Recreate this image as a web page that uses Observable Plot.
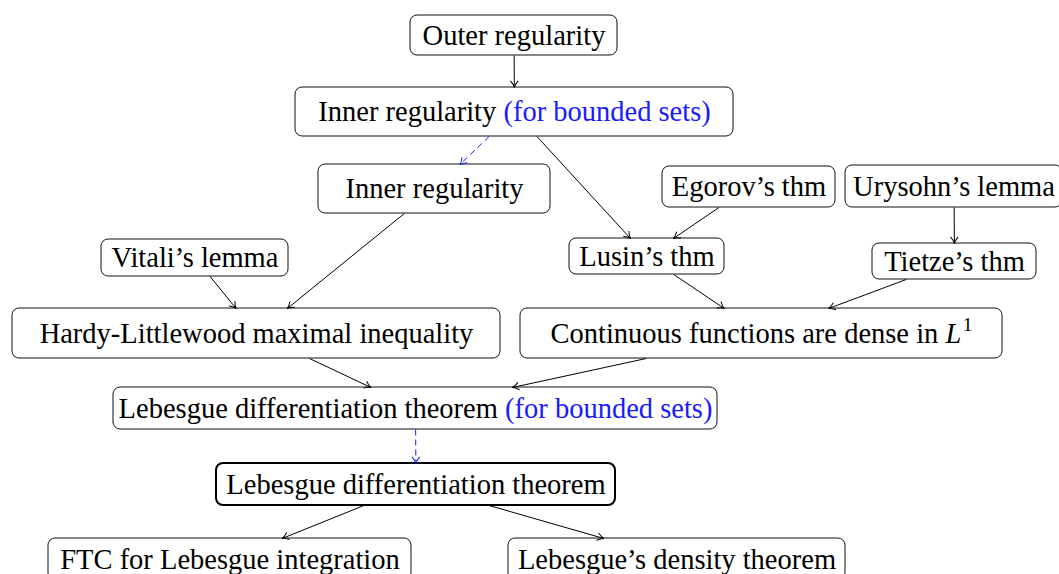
<!DOCTYPE html>
<html>
<head>
<meta charset="utf-8">
<script src="https://cdn.jsdelivr.net/npm/d3@7"></script>
<script src="https://cdn.jsdelivr.net/npm/@observablehq/plot@0.6"></script>
<style>
  html, body { margin: 0; padding: 0; background: #fff; overflow: hidden; }
</style>
</head>
<body>
<div id="chart"></div>
<script>
// ---- Diagram data (node layout) ----
const nodeLabels = [
  "Outer regularity",
  "Inner regularity",
  "Inner regularity",
  "Egorov’s thm",
  "Urysohn’s lemma",
  "Vitali’s lemma",
  "Lusin’s thm",
  "Tietze’s thm",
  "Hardy-Littlewood maximal inequality",
  "Continuous functions are dense in $L^1$",
  "Lebesgue differentiation theorem",
  "Lebesgue differentiation theorem",
  "FTC for Lebesgue integration",
  "Lebesgue’s density theorem"
];
const nodeNotes = ["", "(for bounded sets)", "", "", "", "", "", "", "", "", "(for bounded sets)", "", "", ""];
const nodeX = [513.5, 514, 434, 748.5, 953.5, 194.5, 646.5, 954, 256, 761, 415, 415.5, 229.5, 676.5];
const nodeY = [35, 111.5, 188.5, 186.5, 186, 257.5, 256, 261, 333, 333, 408, 484, 559, 559];
const nodeW = [207, 438, 232, 173, 217, 187, 155, 164, 488, 482, 604, 399, 363, 337];
const nodeH = [40, 49, 49, 41, 42, 37, 36, 36, 50, 50, 42, 42, 42, 42];
const nodeThick = [0, 0, 0, 0, 0, 0, 0, 0, 0, 0, 0, 1, 0, 0];

const edgeFrom   = [0, 1, 1, 3, 4, 5, 2, 6, 7, 8, 9, 10, 11, 11];
const edgeTo     = [1, 2, 6, 6, 7, 8, 8, 9, 9, 10, 10, 11, 12, 13];
const edgeDashed = [0, 1, 0, 0, 0, 0, 0, 0, 0, 0, 0, 1, 0, 0];

// ---- Build tables ----
const FONT = "Liberation Serif";
const FS = 28.5, SUPFS = 19.5;
const BLUE = "#1a1aff";
const ctx = document.createElement("canvas").getContext("2d");
function measure(t, italic, size) {
  ctx.font = `${italic ? "italic " : ""}${size}px "${FONT}"`;
  return ctx.measureText(t).width;
}

const nodes = nodeLabels.map((label, i) => ({
  x1: nodeX[i] - nodeW[i] / 2, x2: nodeX[i] + nodeW[i] / 2,
  y1: nodeY[i] - nodeH[i] / 2, y2: nodeY[i] + nodeH[i] / 2,
  thick: nodeThick[i] === 1
}));

const segs = [];
nodeLabels.forEach((label, i) => {
  const parts = [];
  const m = label.match(/^(.*?)\s*\$(\w)\^(\w)\$$/);
  if (m) {
    parts.push({t: m[1], kind: "plain"});
    parts.push({t: " ", kind: "space"});
    parts.push({t: m[2], kind: "ital"});
    parts.push({t: m[3], kind: "sup"});
  } else {
    parts.push({t: label, kind: "plain"});
  }
  if (nodeNotes[i]) {
    parts.push({t: " ", kind: "space"});
    parts.push({t: nodeNotes[i], kind: "note"});
  }
  parts.forEach(p => {
    p.w = measure(p.t, p.kind === "ital", p.kind === "sup" ? SUPFS : FS) + (p.kind === "ital" ? 1.5 : 0);
  });
  const total = d3.sum(parts, p => p.w);
  let cx = nodeX[i] - total / 2;
  parts.forEach(p => {
    if (p.kind !== "space") segs.push({x: cx, y: nodeY[i], t: p.t, kind: p.kind});
    cx += p.w;
  });
});

const edges = edgeFrom.map((s, i) => {
  const t = edgeTo[i];
  const dx = nodeX[t] - nodeX[s], dy = nodeY[t] - nodeY[s];
  const ts = Math.min(nodeW[s] / 2 / Math.abs(dx), nodeH[s] / 2 / Math.abs(dy));
  const tt = Math.min(nodeW[t] / 2 / Math.abs(dx), nodeH[t] / 2 / Math.abs(dy));
  return {
    x1: nodeX[s] + dx * ts, y1: nodeY[s] + dy * ts,
    x2: nodeX[s] + dx * (1 - tt), y2: nodeY[s] + dy * (1 - tt),
    angle: Math.atan2(dx, -dy) * 180 / Math.PI,
    dashed: edgeDashed[i] === 1
  };
});

// TikZ-like "to" arrow tip, pointing up with its tip at the origin
const arrowTip = {
  draw(context) {
    context.moveTo(-3.8, 6.6);
    context.quadraticCurveTo(-0.5, 2.6, 0, 0);
    context.quadraticCurveTo(0.5, 2.6, 3.8, 6.6);
  }
};

const textBase = {x: "x", y: "y", text: "t", textAnchor: "start", fontFamily: FONT, fontSize: FS};

const chart = Plot.plot({
  width: 1059,
  height: 574,
  margin: 0,
  x: {domain: [0, 1059], range: [0, 1059], axis: null},
  y: {domain: [0, 574], range: [0, 574], axis: null},
  marks: [
    Plot.rect(nodes.filter(d => !d.thick), {x1: "x1", x2: "x2", y1: "y1", y2: "y2", rx: 7, fill: "white", stroke: "#111", strokeWidth: 1}),
    Plot.rect(nodes.filter(d => d.thick), {x1: "x1", x2: "x2", y1: "y1", y2: "y2", rx: 7, fill: "white", stroke: "#000", strokeWidth: 2}),
    Plot.link(edges.filter(d => !d.dashed), {x1: "x1", y1: "y1", x2: "x2", y2: "y2", stroke: "#000", strokeWidth: 1}),
    Plot.link(edges.filter(d => d.dashed), {x1: "x1", y1: "y1", x2: "x2", y2: "y2", stroke: BLUE, strokeWidth: 1, strokeDasharray: "6,4"}),
    Plot.dot(edges.filter(d => !d.dashed), {x: "x2", y: "y2", rotate: "angle", symbol: arrowTip, fill: "none", stroke: "#000", strokeWidth: 1}),
    Plot.dot(edges.filter(d => d.dashed), {x: "x2", y: "y2", rotate: "angle", symbol: arrowTip, fill: "none", stroke: BLUE, strokeWidth: 1}),
    Plot.text(segs.filter(d => d.kind === "plain"), {...textBase, fill: "#000"}),
    Plot.text(segs.filter(d => d.kind === "note"), {...textBase, fill: BLUE}),
    Plot.text(segs.filter(d => d.kind === "ital"), {...textBase, fill: "#000", fontStyle: "italic"}),
    Plot.text(segs.filter(d => d.kind === "sup"), {...textBase, fill: "#000", fontSize: SUPFS, dy: -8.5})
  ]
});

document.getElementById("chart").appendChild(chart);
</script>
</body>
</html>
